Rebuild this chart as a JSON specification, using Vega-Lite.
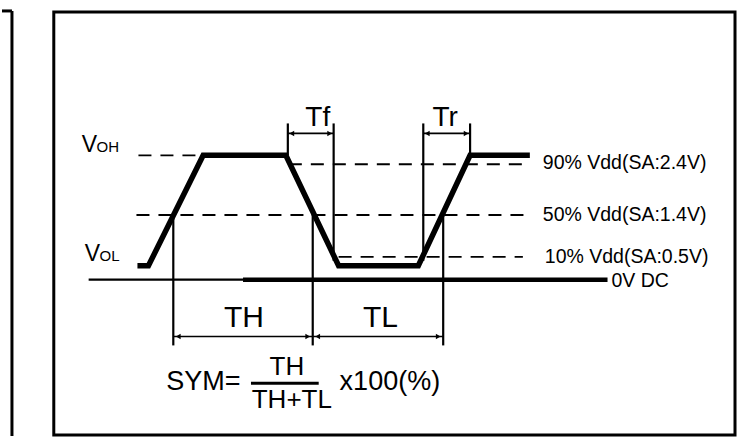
{
  "$schema": "https://vega.github.io/schema/vega-lite/v6.json",
  "width": 737,
  "height": 438,
  "padding": 0,
  "autosize": {"type": "fit", "contains": "padding"},
  "background": "white",
  "config": {"view": {"stroke": null}, "text": {"font": "Liberation Sans", "color": "black"}},
  "datasets": {
    "frame": [{"x": 52, "x2": 736, "y": 12, "y2": 437}],
    "leftEdge": [
      {"x": 10, "y": 11, "x2": 10, "y2": 438},
      {"x": 0, "y": 11, "x2": 10, "y2": 11}
    ],
    "wave": [
      {"i": 0, "x": 136, "y": 267},
      {"i": 1, "x": 147, "y": 267},
      {"i": 2, "x": 202, "y": 156},
      {"i": 3, "x": 285, "y": 156},
      {"i": 4, "x": 338, "y": 267},
      {"i": 5, "x": 418, "y": 267},
      {"i": 6, "x": 470, "y": 156},
      {"i": 7, "x": 530, "y": 156}
    ],
    "thin": [
      {"x": 172, "y": 216, "x2": 172, "y2": 347},
      {"x": 312, "y": 216, "x2": 312, "y2": 347},
      {"x": 443, "y": 216, "x2": 443, "y2": 347},
      {"x": 287, "y": 124, "x2": 287, "y2": 156},
      {"x": 333, "y": 124, "x2": 333, "y2": 262},
      {"x": 423, "y": 124, "x2": 423, "y2": 262},
      {"x": 470, "y": 124, "x2": 470, "y2": 156},
      {"x": 87, "y": 281, "x2": 242, "y2": 281}
    ],
    "arrows": [
      {"x": 287, "y": 134, "x2": 333, "y2": 134},
      {"x": 423, "y": 134, "x2": 470, "y2": 134},
      {"x": 172, "y": 338, "x2": 312, "y2": 338},
      {"x": 312, "y": 338, "x2": 443, "y2": 338}
    ],
    "headsLeft": [
      {"x": 291, "y": 134},
      {"x": 427, "y": 134},
      {"x": 177, "y": 338},
      {"x": 317, "y": 338}
    ],
    "headsRight": [
      {"x": 329, "y": 134},
      {"x": 466, "y": 134},
      {"x": 307, "y": 338},
      {"x": 438, "y": 338}
    ],
    "zeroLine": [{"x": 242, "y": 281, "x2": 608, "y2": 281}],
    "fracBar": [{"x": 250, "y": 385, "x2": 318, "y2": 385}],
    "dashed": [
      {"x": 137, "y": 156, "x2": 205, "y2": 156},
      {"x": 288, "y": 165, "x2": 527, "y2": 165},
      {"x": 135, "y": 216, "x2": 528, "y2": 216},
      {"x": 338, "y": 258, "x2": 523, "y2": 258}
    ],
    "rightLabels": [
      {"x": 543, "y": 170, "t": "90% Vdd(SA:2.4V)"},
      {"x": 543, "y": 222, "t": "50% Vdd(SA:1.4V)"},
      {"x": 545, "y": 264, "t": "10% Vdd(SA:0.5V)"},
      {"x": 612, "y": 288, "t": "0V DC"}
    ],
    "tLabels": [
      {"x": 317, "y": 127, "t": "Tf"},
      {"x": 445, "y": 127, "t": "Tr"}
    ],
    "periodLabels": [
      {"x": 243, "y": 329, "t": "TH"},
      {"x": 380, "y": 329, "t": "TL"}
    ],
    "formula": [
      {"x": 165, "y": 392, "t": "SYM="},
      {"x": 339, "y": 392, "t": "x100(%)"}
    ],
    "fraction": [
      {"x": 286, "y": 377, "t": "TH"},
      {"x": 291, "y": 410, "t": "TH+TL"}
    ],
    "vBig": [
      {"x": 80, "y": 153, "t": "V"},
      {"x": 83, "y": 262, "t": "V"}
    ],
    "vSub": [
      {"x": 95, "y": 153, "t": "OH"},
      {"x": 98, "y": 262, "t": "OL"}
    ]
  },
  "encoding": {
    "x": {"field": "x", "type": "quantitative", "scale": {"domain": [0, 737], "nice": false, "zero": false}, "axis": null},
    "y": {"field": "y", "type": "quantitative", "scale": {"domain": [0, 438], "nice": false, "zero": false, "reverse": true}, "axis": null}
  },
  "layer": [
    {
      "data": {"name": "frame"},
      "mark": {"type": "rect", "fill": null, "filled": false, "stroke": "black", "strokeWidth": 3},
      "encoding": {"x2": {"field": "x2"}, "y2": {"field": "y2"}}
    },
    {
      "data": {"name": "leftEdge"},
      "mark": {"type": "rule", "stroke": "black", "strokeWidth": 3},
      "encoding": {"x2": {"field": "x2"}, "y2": {"field": "y2"}}
    },
    {
      "data": {"name": "dashed"},
      "mark": {"type": "rule", "stroke": "black", "strokeWidth": 1.8, "strokeDash": [13, 9]},
      "encoding": {"x2": {"field": "x2"}, "y2": {"field": "y2"}}
    },
    {
      "data": {"name": "thin"},
      "mark": {"type": "rule", "stroke": "black", "strokeWidth": 2.2},
      "encoding": {"x2": {"field": "x2"}, "y2": {"field": "y2"}}
    },
    {
      "data": {"name": "arrows"},
      "mark": {"type": "rule", "stroke": "black", "strokeWidth": 1.6},
      "encoding": {"x2": {"field": "x2"}, "y2": {"field": "y2"}}
    },
    {
      "data": {"name": "headsLeft"},
      "mark": {"type": "point", "shape": "triangle-left", "filled": true, "color": "black", "size": 30, "opacity": 1}
    },
    {
      "data": {"name": "headsRight"},
      "mark": {"type": "point", "shape": "triangle-right", "filled": true, "color": "black", "size": 30, "opacity": 1}
    },
    {
      "data": {"name": "zeroLine"},
      "mark": {"type": "rule", "stroke": "black", "strokeWidth": 4.5},
      "encoding": {"x2": {"field": "x2"}, "y2": {"field": "y2"}}
    },
    {
      "data": {"name": "fracBar"},
      "mark": {"type": "rule", "stroke": "black", "strokeWidth": 3},
      "encoding": {"x2": {"field": "x2"}, "y2": {"field": "y2"}}
    },
    {
      "data": {"name": "wave"},
      "mark": {"type": "line", "color": "black", "strokeWidth": 5.5, "strokeJoin": "miter", "strokeCap": "butt"},
      "encoding": {"order": {"field": "i", "type": "quantitative"}}
    },
    {
      "data": {"name": "rightLabels"},
      "mark": {"type": "text", "fontSize": 19.5, "align": "left", "baseline": "alphabetic"},
      "encoding": {"text": {"field": "t"}}
    },
    {
      "data": {"name": "tLabels"},
      "mark": {"type": "text", "fontSize": 28, "align": "center", "baseline": "alphabetic"},
      "encoding": {"text": {"field": "t"}}
    },
    {
      "data": {"name": "periodLabels"},
      "mark": {"type": "text", "fontSize": 30, "align": "center", "baseline": "alphabetic"},
      "encoding": {"text": {"field": "t"}}
    },
    {
      "data": {"name": "formula"},
      "mark": {"type": "text", "fontSize": 27, "align": "left", "baseline": "alphabetic"},
      "encoding": {"text": {"field": "t"}}
    },
    {
      "data": {"name": "fraction"},
      "mark": {"type": "text", "fontSize": 26, "align": "center", "baseline": "alphabetic"},
      "encoding": {"text": {"field": "t"}}
    },
    {
      "data": {"name": "vBig"},
      "mark": {"type": "text", "fontSize": 23, "align": "left", "baseline": "alphabetic"},
      "encoding": {"text": {"field": "t"}}
    },
    {
      "data": {"name": "vSub"},
      "mark": {"type": "text", "fontSize": 15, "align": "left", "baseline": "alphabetic"},
      "encoding": {"text": {"field": "t"}}
    }
  ]
}
